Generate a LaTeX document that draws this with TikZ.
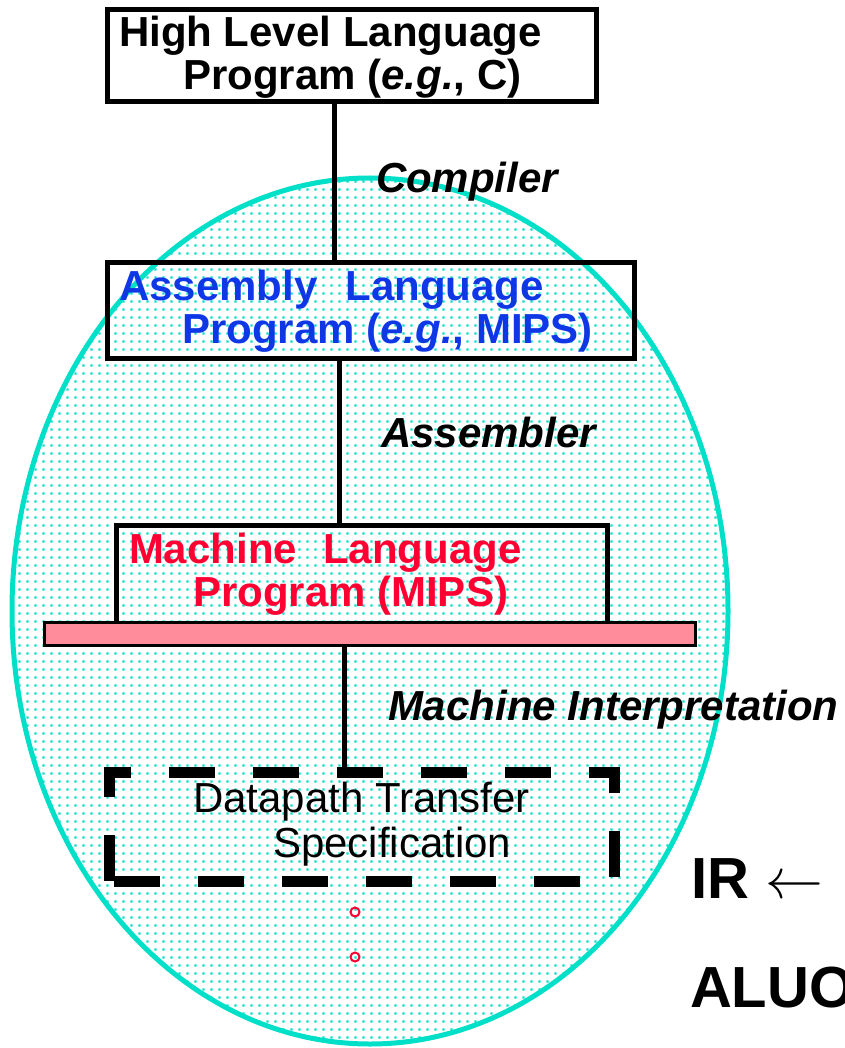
\documentclass[tikz,border=0pt]{standalone}
\usepackage{fontspec}
\setmainfont{Liberation Sans}
\newfontfamily\lmmath{Latin Modern Math}
\usetikzlibrary{patterns}
\pgfdeclarepatternformonly{tealdots}{\pgfqpoint{0pt}{0pt}}{\pgfqpoint{8pt}{8pt}}{\pgfqpoint{8pt}{8pt}}{\pgfpathrectangle{\pgfqpoint{2.8pt}{2.8pt}}{\pgfqpoint{2.4pt}{2.4pt}}\pgfusepath{fill}}
\definecolor{turq}{RGB}{0,224,200}
\definecolor{asmblue}{RGB}{15,55,230}
\definecolor{machred}{RGB}{255,0,51}
\definecolor{pinkbar}{RGB}{255,140,155}
\tikzset{
  box/.style={draw=black, line width=5pt, rectangle, inner sep=0pt},
  conn/.style={draw=black, line width=5pt},
  lbl/.style={anchor=base west, inner sep=0pt, outer sep=0pt, font=\fontsize{42}{50}\selectfont\bfseries},
  ilbl/.style={lbl, font=\fontsize{42}{50}\selectfont\bfseries\itshape},
  rlbl/.style={anchor=base west, inner sep=0pt, outer sep=0pt, font=\fontsize{42}{50}\selectfont},
  biglbl/.style={anchor=base west, inner sep=0pt, outer sep=0pt, font=\fontsize{58}{66}\selectfont\bfseries},
  dashbox/.style={line width=11pt, dash pattern=on 46pt off 38pt},
  dotmark/.style={circle, draw=machred, line width=2pt, minimum size=9pt, inner sep=0pt}
}
\begin{document}
\begin{tikzpicture}[x=1pt,y=-1pt]
\useasboundingbox (0,0) rectangle (844,1048);
\fill[white] (0,0) rectangle (844,1048);
% ellipse
\path[pattern=tealdots, pattern color=turq] (370,611) ellipse [x radius=358pt, y radius=433pt];
\draw[turq, line width=5pt] (370,611) ellipse [x radius=358pt, y radius=433pt];
% boxes
\node[box, fill=white, minimum width=489pt, minimum height=92pt] (hll) at (351.5,56) {};
\node[box, minimum width=527pt, minimum height=96pt] (asm) at (371,310.5) {};
\node[box, minimum width=491pt, minimum height=107.5pt] (mach) at (361.5,579.25) {};
\node[draw=black, line width=3pt, fill=pinkbar, rectangle, minimum width=650.5pt, minimum height=22.5pt, inner sep=0pt] (bar) at (369.75,633.75) {};
\node[rectangle, minimum width=505pt, minimum height=108.5pt, inner sep=0pt, outer sep=0pt] (dp) at (361.5,826.75) {};
\draw[dashbox] (dp.south west) -- (dp.north west) -- (dp.north east) -- (dp.south east) -- cycle;
% connectors
\coordinate (c1) at (334,0);
\coordinate (c2) at (339,0);
\coordinate (c3) at (344,0);
\draw[conn] (hll.south -| c1) -- (asm.north -| c1);
\draw[conn] (asm.south -| c2) -- (mach.north -| c2);
\draw[conn] (bar.south -| c3) -- (dp.north -| c3);
% texts
\node[lbl] (t1) at (119,47) {High Level Language};
\node[lbl] (t2) at (183,90) {Program (\textit{e.g.}, C)};
\node[ilbl] (comp) at (376,193) {Compiler};
\node[lbl, text=asmblue] (a1) at (119,300) {Assembly\hspace{28pt}Language};
\node[lbl, text=asmblue] (a2) at (182,343) {Program (\textit{e.g.}, MIPS)};
\node[ilbl] (asmb) at (381,447) {Assembler};
\node[lbl, text=machred] (m1) at (129,563) {Machine\hspace{26pt}Language};
\node[lbl, text=machred] (m2) at (193,606) {Program (MIPS)};
\node[ilbl] (mi) at (388,720) {Machine Interpretation};
\node[rlbl] (d1) at (193,812) {Datapath Transfer};
\node[rlbl] (d2) at (273,857) {Specification};
\node[dotmark] (o1) at (355,912) {};
\node[dotmark] (o2) at (355,957) {};
\node[biglbl] (ir) at (691,898) {IR {\lmmath ←}};
\node[biglbl] (alu) at (690,1007) {ALUO};
\end{tikzpicture}
\end{document}
